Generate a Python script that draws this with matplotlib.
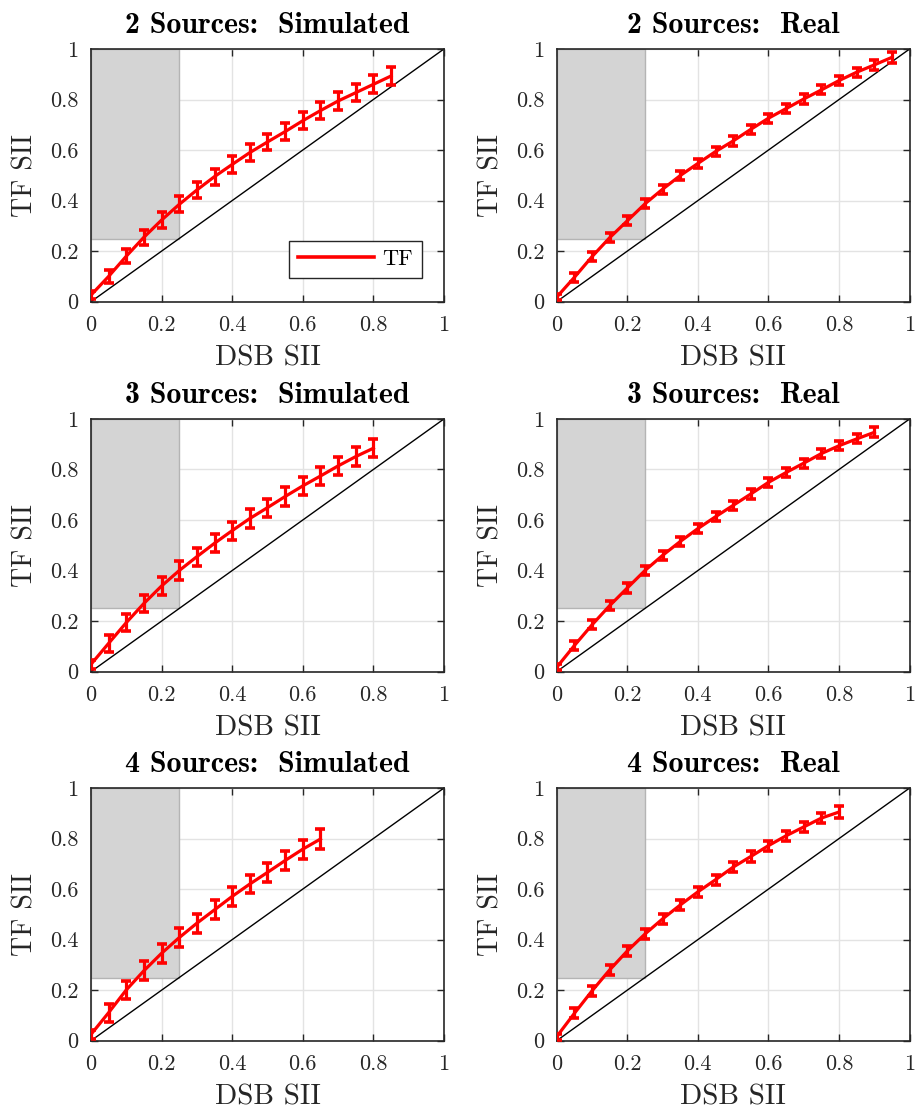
import numpy as np
import matplotlib
matplotlib.use("Agg")
import matplotlib.pyplot as plt
from matplotlib.patches import Rectangle
from matplotlib.lines import Line2D
from matplotlib.ticker import FixedLocator, FixedFormatter

plt.rcParams["font.family"] = ["cmr10", "DejaVu Serif"]
plt.rcParams["axes.formatter.use_mathtext"] = True

# data
titles = ["2 Sources:  Simulated", "2 Sources:  Real",
          "3 Sources:  Simulated", "3 Sources:  Real",
          "4 Sources:  Simulated", "4 Sources:  Real"]

tf_2sim = [0.026, 0.10, 0.18, 0.255, 0.323, 0.385, 0.442, 0.495, 0.543, 0.59,
           0.632, 0.673, 0.716, 0.756, 0.794, 0.827, 0.86, 0.893]
err_2sim = [0.015, 0.025, 0.028, 0.03, 0.03, 0.032, 0.032, 0.032, 0.033, 0.033,
            0.033, 0.033, 0.033, 0.034, 0.034, 0.034, 0.035, 0.035]

tf_2real = [0.018, 0.096, 0.178, 0.253, 0.32, 0.387, 0.445, 0.499, 0.547, 0.594,
            0.636, 0.682, 0.726, 0.764, 0.802, 0.838, 0.875, 0.908, 0.937, 0.967]
err_2real = [0.012, 0.018, 0.018, 0.018, 0.018, 0.018, 0.018, 0.018, 0.018, 0.018,
             0.018, 0.018, 0.018, 0.018, 0.018, 0.018, 0.018, 0.018, 0.02, 0.022]

tf_3sim = [0.029, 0.112, 0.194, 0.27, 0.339, 0.40, 0.455, 0.508, 0.558, 0.606,
           0.649, 0.693, 0.735, 0.774, 0.814, 0.851, 0.884]
err_3sim = [0.018, 0.033, 0.035, 0.035, 0.036, 0.036, 0.036, 0.036, 0.036, 0.036,
            0.036, 0.036, 0.036, 0.036, 0.036, 0.036, 0.036]

tf_3real = [0.017, 0.103, 0.185, 0.261, 0.331, 0.40, 0.46, 0.515, 0.566, 0.613,
            0.658, 0.703, 0.749, 0.788, 0.825, 0.863, 0.894, 0.921, 0.947]
err_3real = [0.012, 0.018, 0.018, 0.018, 0.018, 0.018, 0.018, 0.018, 0.018, 0.018,
             0.018, 0.018, 0.018, 0.018, 0.018, 0.018, 0.018, 0.018, 0.02]

tf_4sim = [0.025, 0.111, 0.201, 0.277, 0.346, 0.408, 0.465, 0.518, 0.571, 0.62,
           0.666, 0.713, 0.758, 0.798]
err_4sim = [0.018, 0.035, 0.037, 0.037, 0.037, 0.037, 0.037, 0.037, 0.037, 0.037,
            0.037, 0.037, 0.037, 0.04]

tf_4real = [0.016, 0.108, 0.197, 0.28, 0.355, 0.422, 0.482, 0.537, 0.589, 0.637,
            0.687, 0.729, 0.772, 0.811, 0.846, 0.881, 0.905]
err_4real = [0.012, 0.02, 0.02, 0.02, 0.02, 0.02, 0.02, 0.02, 0.02, 0.02,
             0.02, 0.02, 0.02, 0.02, 0.02, 0.02, 0.022]

series = [(tf_2sim, err_2sim), (tf_2real, err_2real),
          (tf_3sim, err_3sim), (tf_3real, err_3real),
          (tf_4sim, err_4sim), (tf_4real, err_4real)]

tick_vals = [0, 0.2, 0.4, 0.6, 0.8, 1]
tick_labels = ["0", "0.2", "0.4", "0.6", "0.8", "1"]
step = 0.05

fig = plt.figure(figsize=(9.16, 11.1), dpi=100)

lefts = [0.0993, 0.6077]
bottoms = [0.7282, 0.3949, 0.0624]
w, h = 0.3854, 0.2277
dark = "#262626"

for i, (title, (tf, err)) in enumerate(zip(titles, series)):
    ax = fig.add_axes([lefts[i % 2], bottoms[i // 2], w, h])
    x = np.arange(len(tf)) * step
    ax.set_axisbelow(True)
    ax.grid(True, color="#e3e3e3", lw=1.0)
    ax.add_patch(Rectangle((0, 0.25), 0.25, 0.75, facecolor="#d4d4d4",
                           edgecolor="#b4b4b4", lw=1.0, zorder=1))
    ax.plot([0, 1], [0, 1], color="black", lw=1.0, zorder=2)
    ax.errorbar(x, tf, yerr=err, color="red", lw=2.3, elinewidth=2.3,
                capsize=3.6, capthick=2.6, zorder=3)
    ax.set_xlim(0, 1)
    ax.set_ylim(0, 1)
    for a in (ax.xaxis, ax.yaxis):
        a.set_major_locator(FixedLocator(tick_vals))
        a.set_major_formatter(FixedFormatter(tick_labels))
    ax.tick_params(direction="in", length=5, width=1, top=True, right=True,
                   labelsize=16, colors=dark, pad=9)
    ax.tick_params(axis="x", pad=10)
    for s in ax.spines.values():
        s.set_color(dark)
        s.set_linewidth(1.2)
    ax.set_xlabel("DSB SII", fontsize=21, color=dark, labelpad=7)
    ax.set_ylabel("TF SII", fontsize=20, color=dark, labelpad=8)
    ax.set_title(title, fontsize=21.5, family=["cmb10", "DejaVu Serif"],
                 fontweight="bold", pad=11.2)
    if i == 0:
        handle = Line2D([], [], color="red", lw=2.6)
        leg = ax.legend([handle], ["TF"], loc="lower right", fontsize=16,
                        fancybox=False, edgecolor=dark, framealpha=1,
                        handlelength=3.4, handletextpad=0.4, borderpad=0.4,
                        borderaxespad=0, bbox_to_anchor=(0.938, 0.094))
        leg.get_frame().set_linewidth(1.0)

fig.savefig("out.png", dpi=100)
